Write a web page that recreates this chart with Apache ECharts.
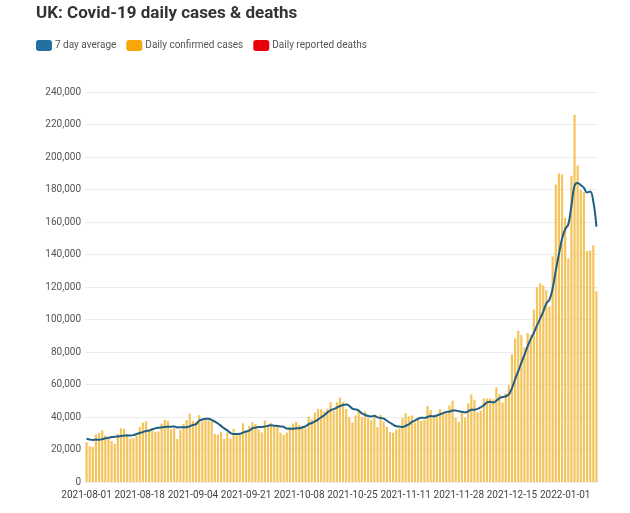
<!DOCTYPE html>
<html>
<head>
<meta charset="utf-8">
<script src="https://cdn.jsdelivr.net/npm/echarts@6/dist/echarts.min.js"></script>
<style>
html,body{margin:0;padding:0;background:#fff;}
#chart{width:630px;height:513px;}
</style>
</head>
<body>
<div id="chart"></div>
<script>
// ---- data ----
const startDate = '2021-08-01';
const dayCount = 164; // 2021-08-01 .. 2022-01-11
const dates = [];
(function(){
  const d0 = new Date(startDate + 'T00:00:00Z');
  for (let i = 0; i < dayCount; i++) {
    const d = new Date(d0.getTime() + i * 86400000);
    dates.push(d.toISOString().slice(0, 10));
  }
})();

// Daily confirmed cases
const dailyCases = [
  24470, 21952, 21691, 29312, 30215, 31808, 28612, 26750, 25161, 23510,
  29612, 33074, 32700, 29520, 26750, 26852, 28438, 33904, 36572, 37314,
  32058, 31914, 30838, 31077, 35847, 38281, 37622, 32406, 33196, 26476,
  32181, 35693, 38154, 42076, 37578, 37011, 41192, 37489, 38975, 38013,
  37622, 29547, 29173, 30825, 26628, 30597, 26911, 32651, 30144, 29612,
  36100, 31564, 34460, 36710, 35623, 32417, 30500, 37960, 34526, 36480,
  35077, 34574, 30301, 28900, 30439, 33869, 36000, 37000, 35000, 34500,
  33000, 40224, 38520, 42776, 45066, 44932, 43423, 45140, 49156, 43738,
  49139, 52009, 49298, 44985, 39962, 36567, 40954, 43941, 39842, 43467,
  39315, 38009, 40077, 33865, 41299, 37269, 34029, 30693, 30305, 32322,
  33117, 39329, 42408, 40375, 40941, 36517, 39705, 37681, 38263, 46807,
  44242, 40004, 40004, 44917, 42484, 43676, 47240, 50091, 39567, 37000,
  42583, 39716, 48374, 53945, 50584, 42848, 43992, 51459, 51342, 51342,
  50867, 58194, 54073, 48854, 54661, 59610, 78610, 88376, 93045, 90418,
  82886, 91743, 90629, 106122, 119789, 122186, 121000, 118000, 108000, 138800,
  183037, 189846, 189213, 162572, 137583, 188500, 226000, 194747, 179756, 178250,
  142000, 142500, 145600, 117300
];

// 7 day average
const sevenDayAvg = [
  26597, 26167, 25907, 26132, 26002, 26314, 26866, 27191, 27650, 27910,
  27953, 28361, 28488, 28618, 28618, 28860, 29564, 30177, 30677, 31336,
  31698, 32436, 33005, 33382, 33660, 33904, 33948, 33998, 34181, 33558,
  33716, 33694, 33675, 34312, 35051, 35596, 37698, 38456, 38925, 38905,
  38269, 37121, 36002, 34521, 32969, 31772, 30186, 29476, 29561, 29624,
  30378, 31083, 31635, 33034, 33459, 33784, 33911, 34176, 34599, 34888,
  34655, 34505, 34203, 33974, 32900, 32806, 32737, 33012, 33073, 33673,
  34258, 35656, 36312, 37280, 38432, 39851, 41126, 42860, 44136, 44882,
  45791, 46782, 47406, 47629, 46890, 45091, 44693, 43951, 42213, 41380,
  40570, 40291, 40792, 39779, 39402, 39034, 37686, 36454, 35354, 34246,
  34139, 33858, 34592, 35498, 36962, 37850, 38905, 39557, 39404, 40033,
  40585, 40451, 40949, 41694, 42380, 43153, 43215, 44051, 43988, 43559,
  43226, 42830, 43502, 44459, 44530, 44999, 45997, 47265, 48926, 49350,
  48911, 49998, 51601, 52296, 52753, 53934, 57838, 63197, 68176, 73368,
  78229, 83527, 87958, 91888, 96376, 100539, 104908, 109924, 112247, 119128,
  130116, 140124, 149699, 155638, 158436, 169936, 182393, 184066, 182624, 181058,
  178119, 178821, 172693, 157165
];

// Daily reported deaths (too small to be visible at this scale; legend only)
const dailyDeaths = [];

const yTicks = [0, 20000, 40000, 60000, 80000, 100000, 120000, 140000, 160000, 180000, 200000, 220000, 240000];
const xLabelEvery = 17;

const colors = {
  avgLegend: '#2470a0',
  avgLine: '#1f5e85',
  casesLegend: '#f7a70a',
  casesBar: '#f3c45c',
  deaths: '#e8000b'
};

// ---- chart ----
const chart = echarts.init(document.getElementById('chart'), null, {renderer: 'canvas'});
const fontFam = 'Roboto, "Noto Sans", sans-serif';

chart.setOption({
  animation: false,
  backgroundColor: '#ffffff',
  textStyle: { fontFamily: fontFam },
  title: {
    text: 'UK: Covid-19 daily cases & deaths',
    left: 31,
    top: 0,
    textStyle: { fontFamily: fontFam, fontSize: 17, fontWeight: 'bold', color: '#333333' }
  },
  legend: {
    left: 31,
    top: 35,
    icon: 'roundRect',
    itemWidth: 16,
    itemHeight: 11,
    itemGap: 10,
    textStyle: { fontFamily: fontFam, fontSize: 10, color: '#555555', padding: [0, 0, 0, -2] },
    data: [
      { name: '7 day average', itemStyle: { color: colors.avgLegend } },
      { name: 'Daily confirmed cases', itemStyle: { color: colors.casesLegend } },
      { name: 'Daily reported deaths', itemStyle: { color: colors.deaths } }
    ]
  },
  grid: { left: 85, right: 32, top: 92, bottom: 31, containLabel: false },
  xAxis: {
    type: 'category',
    data: dates,
    boundaryGap: true,
    axisLine: { show: false },
    axisTick: { show: false },
    axisLabel: {
      interval: function (i) { return i % xLabelEvery === 0; },
      hideOverlap: false,
      showMinLabel: true,
      margin: 8,
      fontFamily: fontFam,
      fontSize: 10,
      color: '#444444'
    }
  },
  yAxis: {
    type: 'value',
    min: yTicks[0],
    max: yTicks[yTicks.length - 1],
    interval: yTicks[1] - yTicks[0],
    axisLine: { show: false },
    axisTick: { show: false },
    splitLine: { lineStyle: { color: '#ececec', width: 1 } },
    axisLabel: {
      margin: 4,
      fontFamily: fontFam,
      fontSize: 10,
      color: '#555555',
      formatter: function (v) { return v.toLocaleString('en-US'); }
    }
  },
  series: [
    {
      name: 'Daily confirmed cases',
      type: 'bar',
      stack: 'day',
      data: dailyCases,
      barCategoryGap: '30%',
      itemStyle: { color: colors.casesBar },
      z: 1
    },
    {
      name: 'Daily reported deaths',
      type: 'bar',
      stack: 'day',
      data: dailyDeaths,
      itemStyle: { color: colors.deaths },
      z: 1
    },
    {
      name: '7 day average',
      type: 'line',
      data: sevenDayAvg,
      smooth: 0.4,
      showSymbol: false,
      symbol: 'none',
      lineStyle: { color: colors.avgLine, width: 2 },
      itemStyle: { color: colors.avgLegend },
      z: 3
    }
  ]
});
</script>
</body>
</html>
